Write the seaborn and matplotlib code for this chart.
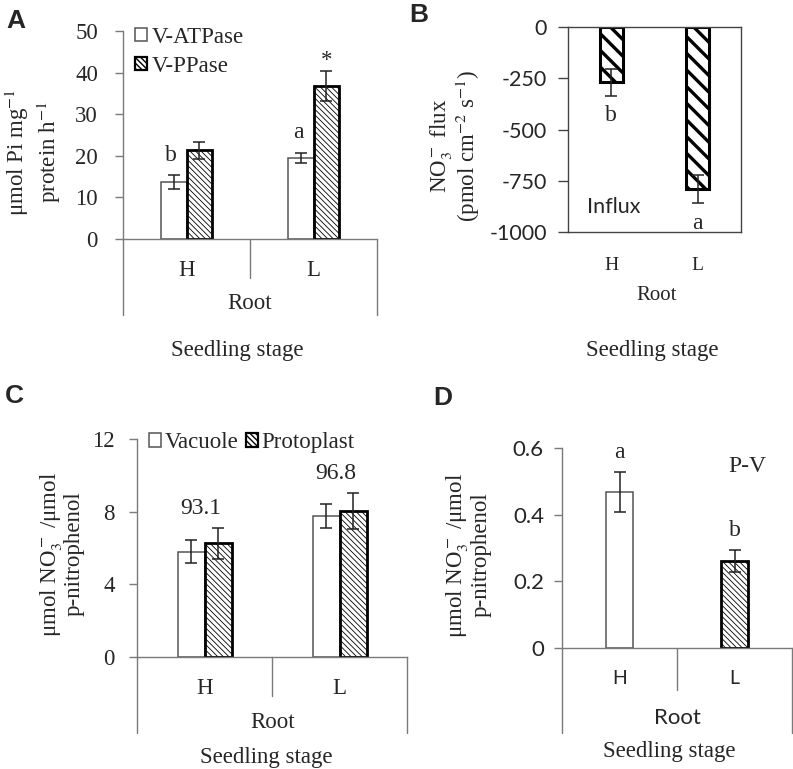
import matplotlib
matplotlib.use("Agg")
import matplotlib.pyplot as plt
import matplotlib.patches as mpatches
import seaborn as sns
import pandas as pd

# ---- data ----
roots = ["H", "L"]

# A: tonoplast pump activity
enzymes = ["V-ATPase", "V-PPase"]
atpase = [13.6, 19.5]
atpase_err = [1.7, 1.2]
ppase = [21.3, 36.7]
ppase_err = [2.0, 3.6]
a_letters = ["b", "a"]

# B: net NO3- flux
flux = [-270, -790]
flux_err = [65, 70]
b_letters = ["b", "a"]

# C: NO3- content
fractions = ["Vacuole", "Protoplast"]
vacuole = [5.8, 7.75]
vacuole_err = [0.65, 0.65]
protoplast = [6.25, 8.05]
protoplast_err = [0.85, 1.0]
c_pct = ["93.1", "96.8"]

# D: protoplast minus vacuole
pv = [0.468, 0.26]
pv_err = [0.06, 0.033]
d_letters = ["a", "b"]

W, H = 793, 769
SERIF = "Liberation Serif"
SANS = "Lato"
GREY = "#7a7a7a"
FS = 16.5

sns.set_style("white")
plt.rcParams["font.family"] = [SERIF, "DejaVu Serif"]
plt.rcParams["mathtext.fontset"] = "stix"
plt.rcParams["font.size"] = FS
plt.rcParams["axes.unicode_minus"] = False

fig = plt.figure(figsize=(W / 100, H / 100), dpi=100)


def rect(left, top, right, bottom):
    return [left / W, 1 - bottom / H, (right - left) / W, (bottom - top) / H]


def ftext(x, y, s, **kw):
    fig.text(x / W, 1 - y / H, s, ha="center", va="center", **kw)


def style_bars(ax, hatched_idx, hatch, hatch_lw, white_ec="#555555", hatch_ec="black", hatch_edge_lw=2.0):
    for i, cont in enumerate(ax.containers):
        for bar in cont:
            bar.set_facecolor("white")
            if i in hatched_idx:
                bar.set_hatch(hatch)
                bar.set_edgecolor(hatch_ec)
                bar.set_linewidth(hatch_edge_lw)
                if hasattr(bar, "set_hatch_linewidth"):
                    bar.set_hatch_linewidth(hatch_lw)
            else:
                bar.set_edgecolor(white_ec)
                bar.set_linewidth(1.1)


def add_err(ax, errs_per_cont):
    for cont, errs in zip(ax.containers, errs_per_cont):
        for bar, e in zip(cont, errs):
            x = bar.get_x() + bar.get_width() / 2
            ax.errorbar(x, bar.get_y() + bar.get_height(), yerr=e, fmt="none",
                        ecolor="#222222", elinewidth=1.1, capsize=4.5, capthick=1.1, zorder=5)


def excel_axis(ax, left_drop, sep_drop, color=GREY):
    # category-axis boxes drawn below the zero line (Excel style)
    kw = dict(transform=ax.transAxes, clip_on=False, color=color, lw=1.0)
    ax.plot([0, 0], [0, -left_drop], **kw)
    ax.plot([1, 1], [0, -left_drop], **kw)
    ax.plot([0.5, 0.5], [0, -sep_drop], **kw)


def base_axis(ax, pad):
    for s in ["top", "right"]:
        ax.spines[s].set_visible(False)
    for s in ["left", "bottom"]:
        ax.spines[s].set_color(GREY)
        ax.spines[s].set_linewidth(1.0)
    ax.tick_params(axis="y", direction="out", length=6, width=1.0, color=GREY, pad=pad, left=True)
    ax.tick_params(axis="x", length=0)
    ax.set_xlabel("")
    ax.set_ylabel("")


def legend_handles(hatch):
    # proxy boxes so the bars keep their own properties
    plain = mpatches.Rectangle((0, 0), 1, 1, facecolor="white", edgecolor="#555555", lw=1.1)
    hatched = mpatches.Rectangle((0, 0), 1, 1, facecolor="white", edgecolor="black", lw=1.6,
                                 hatch=hatch)
    hatched.set_hatch_linewidth(0.6)
    return [plain, hatched]


HATCH_FINE = "\\\\\\\\\\\\"

# ---------------- A ----------------
axA = fig.add_axes(rect(123, 31, 377, 239))
dfA = pd.DataFrame({
    "root": roots * 2,
    "enzyme": [enzymes[0]] * 2 + [enzymes[1]] * 2,
    "value": atpase + ppase,
})
sns.barplot(data=dfA, x="root", y="value", hue="enzyme", ax=axA, width=0.4,
            errorbar=None, palette=["white", "white"], saturation=1, legend=False)
style_bars(axA, [1], HATCH_FINE, 0.6)
add_err(axA, [atpase_err, ppase_err])
axA.set_ylim(0, 50)
axA.set_yticks([0, 10, 20, 30, 40, 50])
axA.set_xlim(-0.5, 1.5)
base_axis(axA, 12)
axA.tick_params(axis="x", pad=15, labelsize=FS)
excel_axis(axA, 76 / 208, 39 / 208)
for bar, lab, e in zip(axA.containers[0], a_letters, atpase_err):
    axA.text(bar.get_x() + bar.get_width() / 2 - 0.02, bar.get_height() + e + 2.3, lab,
             ha="center", va="bottom", fontsize=FS + 0.5)
pb = axA.containers[1][1]
axA.text(pb.get_x() + pb.get_width() / 2, 40.3, "*", ha="center", va="bottom", fontsize=FS)
axA.legend(handles=legend_handles(HATCH_FINE), labels=enzymes,
           loc="upper left", bbox_to_anchor=(0.01, 1.065), frameon=False, handlelength=0.55,
           handleheight=0.55, handletextpad=0.2, labelspacing=0.35, fontsize=FS, borderaxespad=0)
ftext(250, 303, "Root", fontsize=FS)
ftext(237, 350, "Seedling stage", fontsize=FS)
ftext(33, 152, "μmol Pi mg$^{-1}$\nprotein h$^{-1}$", rotation=90, fontsize=FS, linespacing=1.15)

# ---------------- B ----------------
axB = fig.add_axes(rect(568, 27, 741, 232))
dfB = pd.DataFrame({"root": roots, "flux": flux})
sns.barplot(data=dfB, x="root", y="flux", ax=axB, width=0.27, errorbar=None,
            color="white", saturation=1)
style_bars(axB, [0], "\\\\", 2.4, hatch_edge_lw=2.2)
add_err(axB, [flux_err])
axB.set_ylim(-1000, 0)
axB.set_yticks([0, -250, -500, -750, -1000])
axB.set_xlim(-0.5, 1.5)
for s in axB.spines.values():
    s.set_visible(True)
    s.set_color("#444444")
    s.set_linewidth(1.0)
axB.tick_params(axis="y", direction="out", length=7, width=1.0, color="#444444", left=True, pad=8)
axB.tick_params(axis="x", length=0, pad=18, labelsize=14)
for t in axB.get_yticklabels():
    t.set_fontfamily(SANS)
    t.set_fontsize(15.5)
axB.set_xlabel("")
axB.set_ylabel("")
for bar, lab, e in zip(axB.containers[0], b_letters, flux_err):
    axB.text(bar.get_x() + bar.get_width() / 2, bar.get_height() - e - 45, lab,
             ha="center", va="top", fontsize=FS + 0.5)
axB.text(0.11, 0.12, "Influx", transform=axB.transAxes, fontfamily=SANS, fontsize=15.5,
         ha="left", va="center")
ftext(657, 295, "Root", fontsize=15)
ftext(652, 350, "Seedling stage", fontsize=FS)
ftext(455, 146, "NO$_3^-$ flux\n(pmol cm$^{-2}$ s$^{-1}$)", rotation=90, fontsize=FS, linespacing=0.95)

# ---------------- C ----------------
axC = fig.add_axes(rect(137, 439, 407, 657))
dfC = pd.DataFrame({
    "root": roots * 2,
    "fraction": [fractions[0]] * 2 + [fractions[1]] * 2,
    "value": vacuole + protoplast,
})
sns.barplot(data=dfC, x="root", y="value", hue="fraction", ax=axC, width=0.4,
            errorbar=None, palette=["white", "white"], saturation=1, legend=False)
style_bars(axC, [1], HATCH_FINE, 0.6)
add_err(axC, [vacuole_err, protoplast_err])
axC.set_ylim(0, 12)
axC.set_yticks([0, 4, 8, 12])
axC.set_xlim(-0.5, 1.5)
base_axis(axC, 10)
axC.tick_params(axis="x", pad=15, labelsize=FS)
excel_axis(axC, 76 / 218, 39 / 218)
for i, lab in enumerate(c_pct):
    top = max(vacuole[i] + vacuole_err[i], protoplast[i] + protoplast_err[i])
    axC.text(i - 0.03, top + 0.5, lab, ha="center", va="bottom", fontsize=FS + 0.5)
axC.legend(handles=legend_handles(HATCH_FINE), labels=fractions,
           loc="upper left", bbox_to_anchor=(0.01, 1.075), frameon=False, ncol=2,
           handlelength=0.55, handleheight=0.55, handletextpad=0.15, columnspacing=0.3,
           fontsize=FS, borderaxespad=0)
ftext(273, 723, "Root", fontsize=FS)
ftext(266, 757, "Seedling stage", fontsize=FS)
ftext(61, 554, "μmol NO$_3^-$ /μmol\np-nitrophenol", rotation=90, fontsize=FS, linespacing=1.0)

# ---------------- D ----------------
axD = fig.add_axes(rect(562, 448, 792, 648))
dfD = pd.DataFrame({"root": roots, "pv": pv})
sns.barplot(data=dfD, x="root", y="pv", hue="root", ax=axD, width=0.235, dodge=False,
            errorbar=None, palette=["white", "white"], saturation=1, legend=False)
style_bars(axD, [1], HATCH_FINE, 0.6)
add_err(axD, [[pv_err[0]], [pv_err[1]]])
axD.set_ylim(0, 0.6)
axD.set_yticks([0, 0.2, 0.4, 0.6])
axD.set_yticklabels(["0", "0.2", "0.4", "0.6"])
axD.set_xlim(-0.5, 1.5)
base_axis(axD, 7)
axD.tick_params(axis="x", pad=16, labelsize=14)
for t in axD.get_yticklabels() + axD.get_xticklabels():
    t.set_fontfamily(SANS)
for t in axD.get_yticklabels():
    t.set_fontsize(16)
excel_axis(axD, 85 / 200, 42 / 200)
for i, lab in enumerate(d_letters):
    axD.text(i, pv[i] + pv_err[i] + 0.028, lab, ha="center", va="bottom", fontsize=FS + 0.5)
axD.text(0.805, 0.905, "P-V", transform=axD.transAxes, ha="center", va="center", fontsize=FS + 0.5)
ftext(677, 718, "Root", fontsize=16, fontfamily=SANS)
ftext(669, 752, "Seedling stage", fontsize=FS)
ftext(468, 555, "μmol NO$_3^-$ /μmol\np-nitrophenol", rotation=90, fontsize=FS, linespacing=1.0)

# panel letters
for (x, y, s) in [(16, 21, "A"), (419, 15, "B"), (14, 396, "C"), (443, 398, "D")]:
    ftext(x, y, s, fontsize=19, fontweight="bold", fontfamily="Liberation Sans")

fig.savefig("out.png", dpi=100)
